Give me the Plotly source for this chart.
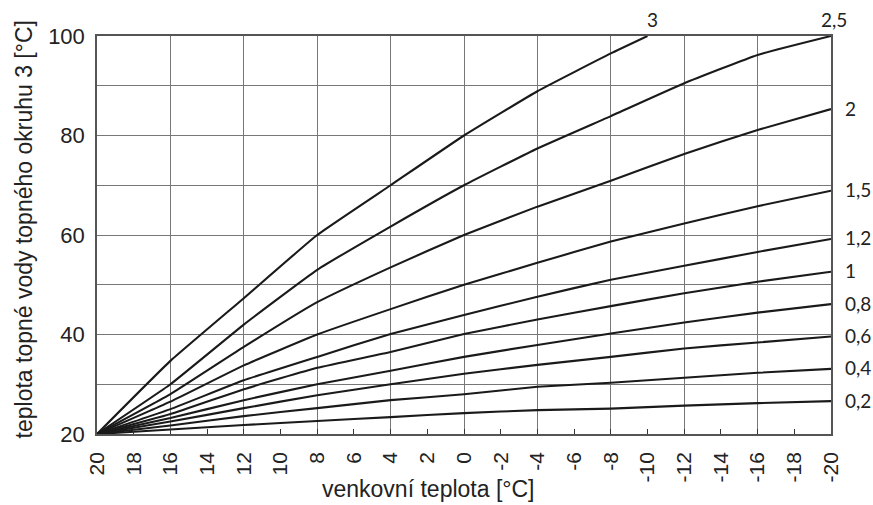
import plotly.graph_objects as go

# outdoor temperature [°C] (x axis, reversed)
temps = [20, 16, 12, 8, 4, 0, -4, -8, -12, -16, -20]
temps_k3 = [20, 16, 12, 8, 4, 0, -4, -8, -10]

# tick labels of the outdoor-temperature axis
x_tick_vals = [20, 18, 16, 14, 12, 10, 8, 6, 4, 2, 0, -2, -4, -6, -8, -10, -12, -14, -16, -18, -20]
x_tick_text = ["20", "18", "16", "14", "12", "10", "8", "6", "4", "2", "0", "-2", "-4", "-6",
               "-8", "-10", "-12", "-14", "-16", "-18", "-20"]

# heating curves: flow temperature [°C]
c02 = [20, 20.9, 21.8, 22.6, 23.4, 24.2, 24.8, 25.1, 25.7, 26.2, 26.6]
c04 = [20, 21.7, 23.6, 25.2, 26.8, 28.0, 29.5, 30.3, 31.3, 32.3, 33.1]
c06 = [20, 22.5, 25.2, 27.8, 30.0, 32.1, 33.9, 35.5, 37.2, 38.4, 39.6]
c08 = [20, 23.2, 26.8, 30.0, 32.7, 35.5, 37.9, 40.2, 42.4, 44.4, 46.1]
c10 = [20, 24.0, 29.0, 33.3, 36.5, 40.1, 43.0, 45.7, 48.3, 50.6, 52.6]
c12 = [20, 25.0, 30.8, 35.5, 40.1, 43.9, 47.6, 51.0, 53.8, 56.6, 59.2]
c15 = [20, 26.5, 33.8, 40.0, 45.1, 50.0, 54.4, 58.7, 62.3, 65.8, 68.9]
c20 = [20, 28.0, 37.5, 46.5, 53.5, 60.0, 65.7, 70.9, 76.3, 81.1, 85.3]
c25 = [20, 30.0, 42.0, 53.0, 61.7, 70.0, 77.4, 83.9, 90.5, 96.2, 100]
c30 = [20, 34.7, 47.3, 60.0, 70.0, 80.0, 88.9, 96.5, 100]

side_labels = ["0,2", "0,4", "0,6", "0,8", "1", "1,2", "1,5", "2"]
side_series = [c02, c04, c06, c08, c10, c12, c15, c20]
top_labels = ["2,5", "3"]

x_title = "venkovní teplota [°C]"
y_title = "teplota topné vody topného okruhu 3 [°C]"

LINE = "#1a1a1a"
GRID = "#777777"
FRAME = "#555555"

fig = go.Figure()

all_series = [(temps, s) for s in side_series] + [(temps, c25), (temps_k3, c30)]
for xs, ys in all_series:
    fig.add_trace(go.Scatter(x=xs, y=ys, xaxis="x2", yaxis="y", mode="lines",
                             line=dict(color=LINE, width=2.1, shape="spline", smoothing=0.35),
                             showlegend=False, hoverinfo="skip"))
# anchor trace for the labelled axis
fig.add_trace(go.Scatter(x=[temps[0], temps[-1]], y=[20, 20], mode="lines",
                         line=dict(width=0), showlegend=False, hoverinfo="skip"))

lab_font = dict(family="Lato", size=19, color="#222")
annotations = []
for lab, ys in zip(side_labels, side_series):
    annotations.append(dict(x=temps[-1], y=ys[-1], xref="x2", yref="y", text=lab,
                            showarrow=False, xanchor="left", yanchor="middle",
                            xshift=12, yshift=1, font=lab_font))
annotations.append(dict(x=temps[-1], y=c25[-1], xref="x2", yref="y", text=top_labels[0],
                        showarrow=False, xanchor="center", yanchor="bottom",
                        xshift=3, yshift=3, font=lab_font))
annotations.append(dict(x=temps_k3[-1], y=c30[-1], xref="x2", yref="y", text=top_labels[1],
                        showarrow=False, xanchor="center", yanchor="bottom",
                        xshift=5, yshift=3, font=lab_font))
annotations.append(dict(x=0.451, y=-0.137, xref="paper", yref="paper", text=x_title,
                        showarrow=False, xanchor="center", yanchor="middle",
                        font=dict(family="Liberation Sans", size=23, color="#222")))
annotations.append(dict(x=-0.1, y=0.513, xref="paper", yref="paper", text=y_title,
                        showarrow=False, xanchor="center", yanchor="middle", textangle=-90,
                        font=dict(family="Liberation Sans", size=23, color="#222")))

fig.update_layout(
    width=873, height=505,
    margin=dict(l=97, r=42, t=36, b=71, autoexpand=False),
    plot_bgcolor="white", paper_bgcolor="white",
    xaxis=dict(range=[20, -20], tickmode="array", tickvals=x_tick_vals, ticktext=x_tick_text,
               tickangle=-90,
               ticks="inside", ticklen=5, tickwidth=1.3, tickcolor="#333",
               showgrid=False, zeroline=False,
               showline=True, linecolor=FRAME, linewidth=1.5, mirror=True,
               ticklabelstandoff=8,
               tickfont=dict(family="Liberation Sans", size=21, color="#222")),
    xaxis2=dict(range=[20, -20], overlaying="x", anchor="y", side="bottom",
                tick0=0, dtick=4, showgrid=True, gridcolor=GRID, gridwidth=1.3,
                showticklabels=False, ticks="", zeroline=False, showline=False),
    yaxis=dict(range=[20, 100], tick0=20, dtick=20, ticks="",
               showgrid=True, gridcolor=GRID, gridwidth=1.3, zeroline=False,
               minor=dict(dtick=10, showgrid=True, gridcolor=GRID, gridwidth=1.3),
               showline=True, linecolor=FRAME, linewidth=1.5, mirror=True,
               ticklabelstandoff=6,
               tickfont=dict(family="Liberation Sans", size=22, color="#222")),
    annotations=annotations,
)

fig.write_html("out.html", config={"displayModeBar": False},
               post_script="document.body.style.margin='0';document.body.style.overflow='hidden';")
